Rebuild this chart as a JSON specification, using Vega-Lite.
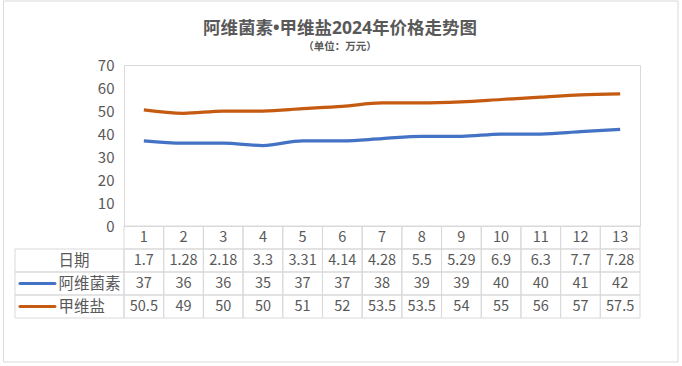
{
  "$schema": "https://vega.github.io/schema/vega-lite/v6.json",
  "width": 516,
  "height": 161,
  "autosize": {"type": "none"},
  "padding": {"left": 124, "top": 65, "right": 42, "bottom": 140},
  "background": "white",
  "config": {"view": {"stroke": "#d9d9d9"}, "font": "Noto Sans CJK SC"},
  "title": {
    "text": "阿维菌素•甲维盐2024年价格走势图",
    "subtitle": "（单位：万元）",
    "font": "Noto Sans, Noto Sans CJK SC",
    "subtitleFont": "Noto Sans CJK SC",
    "fontSize": 17.5,
    "fontWeight": "bold",
    "color": "#595959",
    "subtitleFontSize": 10.5,
    "subtitleFontWeight": "bold",
    "subtitleColor": "#595959",
    "subtitlePadding": 5,
    "anchor": "middle",
    "frame": "group",
    "dx": -42,
    "offset": -52
  },
  "data": {
    "values": [
      {"序号": 1, "日期": "1.7", "阿维菌素": 37, "甲维盐": 50.5},
      {"序号": 2, "日期": "1.28", "阿维菌素": 36, "甲维盐": 49},
      {"序号": 3, "日期": "2.18", "阿维菌素": 36, "甲维盐": 50},
      {"序号": 4, "日期": "3.3", "阿维菌素": 35, "甲维盐": 50},
      {"序号": 5, "日期": "3.31", "阿维菌素": 37, "甲维盐": 51},
      {"序号": 6, "日期": "4.14", "阿维菌素": 37, "甲维盐": 52},
      {"序号": 7, "日期": "4.28", "阿维菌素": 38, "甲维盐": 53.5},
      {"序号": 8, "日期": "5.5", "阿维菌素": 39, "甲维盐": 53.5},
      {"序号": 9, "日期": "5.29", "阿维菌素": 39, "甲维盐": 54},
      {"序号": 10, "日期": "6.9", "阿维菌素": 40, "甲维盐": 55},
      {"序号": 11, "日期": "6.3", "阿维菌素": 40, "甲维盐": 56},
      {"序号": 12, "日期": "7.7", "阿维菌素": 41, "甲维盐": 57},
      {"序号": 13, "日期": "7.28", "阿维菌素": 42, "甲维盐": 57.5}
    ]
  },
  "layer": [
    {
      "data": {"values": [{"k": "all"}]},
      "mark": {"type": "rect", "filled": false, "color": "#d9d9d9", "strokeWidth": 1},
      "encoding": {
        "x": {"field": "k", "type": "nominal", "scale": {"type": "band", "domain": ["all"], "range": [-120.5, 554], "paddingInner": 0, "paddingOuter": 0}, "axis": null},
        "y": {"field": "k", "type": "nominal", "scale": {"type": "band", "domain": ["all"], "range": [-64, 297], "paddingInner": 0, "paddingOuter": 0}, "axis": null}
      }
    },
    {
      "transform": [{"fold": ["阿维菌素", "甲维盐"], "as": ["series", "price"]}],
      "mark": {"type": "line", "interpolate": "monotone", "strokeWidth": 3.25},
      "encoding": {
        "x": {"field": "序号", "type": "ordinal", "scale": {"type": "point", "padding": 0.5}, "axis": null},
        "y": {
          "field": "price",
          "type": "quantitative",
          "scale": {"domain": [0, 70], "nice": false},
          "axis": {"orient": "left", "values": [0, 10, 20, 30, 40, 50, 60, 70], "grid": false, "ticks": false, "domain": false, "labelFontSize": 15, "labelColor": "#595959", "labelPadding": 10, "title": null}
        },
        "color": {"field": "series", "type": "nominal", "scale": {"domain": ["阿维菌素", "甲维盐"], "range": ["#4472C4", "#C55A11"]}, "legend": null}
      }
    },
    {
      "transform": [{"fold": ["序号", "日期", "阿维菌素", "甲维盐"], "as": ["row", "cell"]}],
      "mark": {"type": "rect", "filled": false, "color": "#d9d9d9", "strokeWidth": 1},
      "encoding": {
        "x": {"field": "序号", "type": "ordinal", "scale": {"type": "band", "paddingInner": 0, "paddingOuter": 0}, "axis": null},
        "y": {"field": "row", "type": "nominal", "scale": {"type": "band", "domain": ["序号", "日期", "阿维菌素", "甲维盐"], "range": [161, 253], "paddingInner": 0, "paddingOuter": 0}, "axis": null}
      }
    },
    {
      "transform": [{"fold": ["序号", "日期", "阿维菌素", "甲维盐"], "as": ["row", "cell"]}],
      "mark": {"type": "text", "fontSize": 14.5, "color": "#595959", "align": "center", "baseline": "middle"},
      "encoding": {
        "x": {"field": "序号", "type": "ordinal", "bandPosition": 0.5, "scale": {"type": "band", "paddingInner": 0, "paddingOuter": 0}, "axis": null},
        "y": {"field": "row", "type": "nominal", "bandPosition": 0.5, "scale": {"type": "band", "domain": ["序号", "日期", "阿维菌素", "甲维盐"], "range": [161, 253], "paddingInner": 0, "paddingOuter": 0}, "axis": null},
        "text": {"field": "cell", "type": "nominal"}
      }
    },
    {
      "data": {"values": [{"col": "label", "row": "日期"}, {"col": "label", "row": "阿维菌素"}, {"col": "label", "row": "甲维盐"}]},
      "layer": [
        {
          "mark": {"type": "rect", "filled": false, "color": "#d9d9d9", "strokeWidth": 1},
          "encoding": {
            "x": {"field": "col", "type": "nominal", "scale": {"type": "band", "domain": ["label"], "range": [-109, 0], "paddingInner": 0, "paddingOuter": 0}, "axis": null},
            "y": {"field": "row", "type": "nominal", "scale": {"type": "band", "domain": ["日期", "阿维菌素", "甲维盐"], "range": [184, 253], "paddingInner": 0, "paddingOuter": 0}, "axis": null}
          }
        },
        {
          "mark": {"type": "text", "fontSize": 15.5, "color": "#595959", "align": "left", "baseline": "middle"},
          "encoding": {
            "x": {"field": "col", "type": "nominal", "bandPosition": 0.4, "scale": {"type": "band", "domain": ["label"], "range": [-109, 0], "paddingInner": 0, "paddingOuter": 0}, "axis": null},
            "y": {"field": "row", "type": "nominal", "bandPosition": 0.5, "scale": {"type": "band", "domain": ["日期", "阿维菌素", "甲维盐"], "range": [184, 253], "paddingInner": 0, "paddingOuter": 0}, "axis": null},
            "text": {"field": "row", "type": "nominal"}
          }
        },
        {
          "transform": [{"filter": "datum.row !== '日期'"}],
          "mark": {"type": "point", "shape": "M-1,0L1,0", "size": 1225, "filled": false, "strokeWidth": 3, "strokeCap": "round", "opacity": 1},
          "encoding": {
            "x": {"field": "col", "type": "nominal", "bandPosition": 0.206, "scale": {"type": "band", "domain": ["label"], "range": [-109, 0], "paddingInner": 0, "paddingOuter": 0}, "axis": null},
            "y": {"field": "row", "type": "nominal", "bandPosition": 0.5, "scale": {"type": "band", "domain": ["日期", "阿维菌素", "甲维盐"], "range": [184, 253], "paddingInner": 0, "paddingOuter": 0}, "axis": null},
            "color": {"field": "row", "type": "nominal", "scale": {"domain": ["阿维菌素", "甲维盐"], "range": ["#4472C4", "#C55A11"]}, "legend": null}
          }
        }
      ],
      "resolve": {"scale": {"x": "shared", "y": "shared"}}
    }
  ],
  "resolve": {"scale": {"x": "independent", "y": "independent", "color": "independent"}}
}
